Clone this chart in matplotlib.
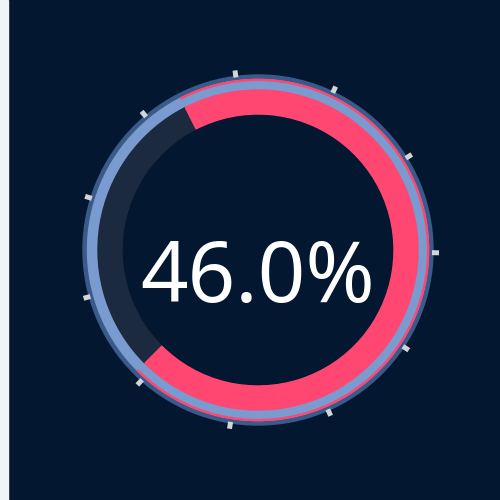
import matplotlib
matplotlib.use("Agg")
import matplotlib.pyplot as plt
from matplotlib.patches import Wedge, Rectangle
import numpy as np

# gauge data
value = 46.0
gauge_min = 0.0
gauge_max = 65.7
label_text = ["46.0%"]
n_ticks = 11
tick_offset_deg = -7.3   # clockwise from 12 o'clock

# colours
bg = "#041731"
strip = "#f0f3f8"
rim = "#3a5a8a"
ring = "#7a9bcf"
progress = "#ff4771"
track = "#1b2a3e"
tick_col = "#d2d4d6"

fig = plt.figure(figsize=(5, 5), dpi=100)
fig.patch.set_facecolor(bg)
ax = fig.add_axes([0, 0, 1, 1])
ax.set_xlim(0, 500)
ax.set_ylim(0, 500)
ax.set_aspect("equal")
ax.axis("off")
ax.set_facecolor(bg)

ax.add_patch(Rectangle((0, 0), 8, 500, color=strip, zorder=0))

cx, cy = 258, 250

# outer rim and light ring
ax.add_patch(Wedge((cx, cy), 175, 0, 360, width=5, color=rim, zorder=2))
ax.add_patch(Wedge((cx, cy), 170.5, 0, 360, width=10.5, color=ring, zorder=2))

# progress arc, starting at the lower-left and sweeping through the right side
start = -135.0
frac = (value - gauge_min) / (gauge_max - gauge_min)
end = start + frac * 360.0
ax.add_patch(Wedge((cx, cy), 160, end, start + 360, width=24, color=track, zorder=3))
ax.add_patch(Wedge((cx, cy), 160, start, end, width=24, color=progress, zorder=3))
ax.add_patch(Wedge((cx, cy), 170.6, start, end, width=1.0, color=progress, zorder=4))

# decorative ticks around the rim
for i in range(n_ticks):
    a = tick_offset_deg + i * 360.0 / n_ticks
    th = np.deg2rad(90 - a)
    r0, r1 = 174.0, 181.0
    x0, y0 = cx + r0 * np.cos(th), cy + r0 * np.sin(th)
    x1, y1 = cx + r1 * np.cos(th), cy + r1 * np.sin(th)
    ax.plot([x0, x1], [y0, y1], color=tick_col, lw=3.6, solid_capstyle="butt", zorder=5)

ax.text(cx, 500 - 302, label_text[0], color="white", ha="center", va="baseline",
        fontsize=60, family="Noto Sans", zorder=6)

fig.savefig("out.png", dpi=100, facecolor=bg)
